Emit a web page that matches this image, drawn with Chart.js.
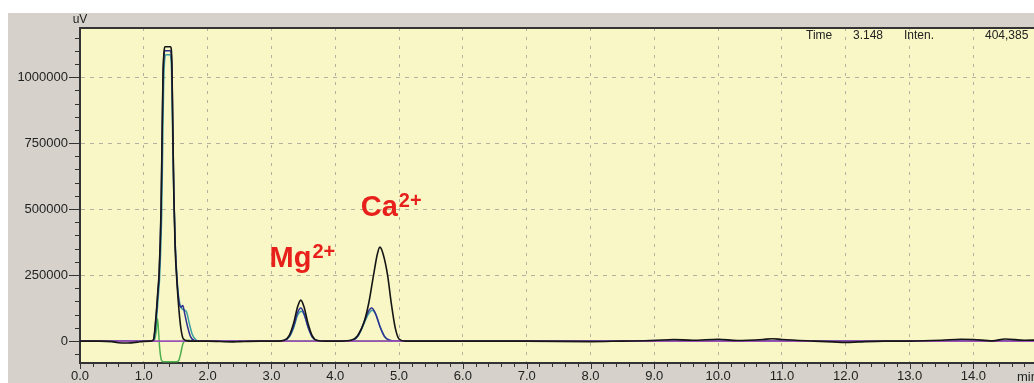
<!DOCTYPE html><html lang="en">
<head>
  <meta charset="UTF-8" />
  <title>Chromatogram - Mg / Ca</title>
  <style>
    html, body { margin:0; padding:0; background:#fff; overflow:hidden; }
    #wrap { width:1034px; height:383px; }
  </style>
  <script src="https://cdn.jsdelivr.net/npm/chart.js"></script>
</head>
<body>
  <div id="wrap"><canvas id="chrom" width="1034" height="383"></canvas></div>
<script>
  // retention time (min) / intensity (uV)
  const blackT = [0,0.3,0.5,0.6,0.75,0.9,1.0,1.1,1.15,1.19,1.22,1.24,1.27,1.285,1.30,1.315,1.33,1.42,1.44,1.455,1.47,1.49,1.52,1.55,1.58,1.62,1.7,2.0,2.4,2.5,2.8,3.1,3.2,3.28,3.35,3.41,3.46,3.51,3.57,3.64,3.72,3.85,4.1,4.25,4.35,4.45,4.53,4.6,4.66,4.70,4.75,4.82,4.88,4.94,5.0,5.1,6.0,7.0,8.0,8.5,9.0,9.3,9.6,10.0,10.3,10.7,10.85,11.0,11.5,11.8,12.0,12.2,12.6,13.0,13.5,13.8,14.0,14.3,14.5,14.8,15.0];
  const blackV = [0,0,-2000,-6000,-7000,-4000,-1000,0,4000,90000,190000,260000,500000,750000,1000000,1090000,1115000,1115000,1050000,800000,560000,360000,220000,120000,50000,8000,0,0,-3000,-2000,0,0,3000,22000,70000,130000,155000,130000,70000,20000,2000,0,0,3000,20000,70000,150000,250000,330000,356000,330000,250000,140000,50000,8000,0,0,0,-2000,0,2000,6000,3000,7000,2000,6000,9000,6000,0,-3000,-5000,-3000,0,0,3000,7000,6000,1000,8000,3000,4000];

  const blueT = [0,1.1,1.15,1.19,1.22,1.24,1.27,1.285,1.30,1.315,1.335,1.415,1.44,1.455,1.47,1.49,1.52,1.55,1.58,1.61,1.64,1.68,1.73,1.79,1.85,3.1,3.2,3.28,3.35,3.41,3.46,3.51,3.57,3.64,3.72,3.85,4.15,4.28,4.36,4.44,4.51,4.57,4.63,4.70,4.77,4.85,4.95,8.5,9.0,9.5,13.6,13.9,14.2,15.0];
  const blueV = [0,0,4000,85000,180000,250000,490000,740000,990000,1080000,1100000,1100000,1040000,800000,570000,380000,230000,150000,128000,135000,105000,60000,18000,2000,0,0,2500,18000,58000,108000,125000,105000,55000,15000,1500,0,0,4000,22000,65000,108000,125000,105000,55000,18000,3000,0,0,2000,0,0,5000,0,0];

  const tealT = [0,1.1,1.16,1.20,1.23,1.25,1.28,1.295,1.31,1.325,1.345,1.41,1.435,1.45,1.47,1.49,1.52,1.55,1.59,1.63,1.67,1.71,1.76,1.82,1.88,3.1,3.2,3.28,3.35,3.41,3.47,3.52,3.58,3.65,3.73,3.85,4.15,4.28,4.36,4.44,4.52,4.58,4.64,4.71,4.78,4.86,4.95,15.0];
  const tealV = [0,0,4000,85000,180000,250000,480000,720000,960000,1060000,1085000,1085000,1020000,800000,560000,380000,240000,160000,125000,118000,110000,70000,25000,4000,0,0,2000,16000,52000,98000,113000,95000,50000,13000,1000,0,0,3000,20000,60000,102000,117000,98000,50000,15000,2000,0,0];

  const greenT = [0,1.1,1.16,1.19,1.215,1.23,1.25,1.275,1.30,1.52,1.55,1.58,1.61,1.64,1.7,1.8,15.0];
  const greenV = [0,0,2000,30000,85000,40000,-30000,-72000,-78000,-78000,-72000,-45000,-12000,0,3000,0,0];

  const purpleT = [0,15.0];
  const purpleV = [0,0];

  const ionNames = ['Mg','Ca'];
  const ionCharge = ['2+','2+'];
  const ionAtT = [2.97, 4.40];
  const ionAtV = [280000, 473000];

  const yMin = -83000, yMax = 1186000, yStep = 50000, yMajor = 250000;
  const xMin = 0, xMax = 14.95, xStep = 0.2;

  const pts = (t, v) => t.map((x, i) => ({x, y: v[i]}));
  const isWhole = v => Math.abs(v - Math.round(v)) < 1e-6;
  const isMajorY = v => Math.abs(v % yMajor) < 1e-6;
  const FONT = 'Liberation Sans, Arial, sans-serif';
  Chart.defaults.font.family = FONT;

  const trace = (data, color, w) => ({ data, borderColor: color, borderWidth: w || 1.4, pointRadius: 0, fill: false, tension: 0.35, cubicInterpolationMode: 'monotone' });

  const chromPaper = {
    id: 'chromPaper',
    beforeDraw(chart) {
      const {ctx, chartArea: a, width, height} = chart;
      ctx.save();
      ctx.fillStyle = '#fff'; ctx.fillRect(0, 0, width, height);
      ctx.fillStyle = '#d6d2cb'; ctx.fillRect(8, 13, width - 8, height - 13);
      ctx.fillStyle = '#f9f7c6'; ctx.fillRect(a.left, a.top, a.right - a.left, a.bottom - a.top);
      ctx.restore();
    },
    afterDraw(chart) {
      const {ctx, chartArea: a} = chart, xs = chart.scales.x, ys = chart.scales.y;
      ctx.save();
      ctx.strokeStyle = '#333'; ctx.lineWidth = 1;
      ctx.beginPath();
      xs.ticks.forEach(t => { const px = Math.round(xs.getPixelForValue(t.value)) + 0.5; ctx.moveTo(px, a.bottom); ctx.lineTo(px, a.bottom + (isWhole(t.value) ? 6 : 4)); });
      ys.ticks.forEach(t => { const py = Math.round(ys.getPixelForValue(t.value)) + 0.5; ctx.moveTo(a.left - (isMajorY(t.value) ? 11 : 5), py); ctx.lineTo(a.left, py); });
      ctx.stroke();
      // top frame
      ctx.lineWidth = 2; ctx.beginPath(); ctx.moveTo(a.left, a.top); ctx.lineTo(a.right, a.top); ctx.stroke();
      // unit labels
      ctx.fillStyle = '#222'; ctx.textBaseline = 'middle';
      ctx.font = '12px ' + FONT; ctx.textAlign = 'center'; ctx.fillText('uV', 80, 20);
      ctx.textAlign = 'left'; ctx.font = '13px ' + FONT; ctx.fillText('min', 1017, 377);
      // cursor readout
      ctx.font = '12px ' + FONT;
      ctx.fillText('Time', 806, 36); ctx.fillText('3.148', 853, 36); ctx.fillText('Inten.', 904, 36); ctx.fillText('404,385', 985, 36);
      // ion labels
      ctx.fillStyle = '#e8201c'; ctx.textBaseline = 'alphabetic';
      ionNames.forEach((n, i) => {
        const px = xs.getPixelForValue(ionAtT[i]), py = ys.getPixelForValue(ionAtV[i]);
        ctx.font = 'bold 29px ' + FONT; ctx.fillText(n, px, py);
        const w = ctx.measureText(n).width;
        ctx.font = 'bold 20px ' + FONT; ctx.fillText(ionCharge[i], px + w + 1, py - 9);
      });
      ctx.restore();
    }
  };

  new Chart(document.getElementById('chrom'), {
    type: 'line',
    data: { datasets: [
      trace(pts(blackT, blackV), '#161616', 1.6),
      trace(pts(purpleT, purpleV), '#9a52b4', 1.6),
      trace(pts(blueT, blueV), '#2e3190', 1.5),
      trace(pts(tealT, tealV), '#3b9ea2', 1.5),
      trace(pts(greenT, greenV), '#4cae4c', 1.5)
    ]},
    options: {
      responsive: false, animation: false, events: [],
      layout: { padding: { top: 28, left: 0, right: 0, bottom: 0 } },
      plugins: { legend: { display: false }, tooltip: { enabled: false } },
      scales: {
        x: {
          type: 'linear', min: xMin, max: xMax,
          afterFit(s) { s.height = 20; },
          border: { color: '#333', width: 2, dash: [3, 6] },
          grid: { drawTicks: false, color: c => isWhole(c.tick.value) && c.tick.value > 0 ? '#b3b19f' : 'rgba(0,0,0,0)', lineWidth: 1 },
          ticks: { stepSize: xStep, includeBounds: false, autoSkip: false, maxRotation: 0, padding: 6, color: '#222', font: { size: 13 },
            callback: v => isWhole(v) ? v.toFixed(1) : '' }
        },
        y: {
          min: yMin, max: yMax,
          afterFit(s) { s.width = 80; },
          // chart.js snaps the step when min/max are not multiples of it, so lay the ticks out here
          afterBuildTicks(s) {
            const t = [];
            for (let v = Math.ceil(yMin / yStep) * yStep; v <= yMax; v += yStep) t.push({ value: v });
            s.ticks = t;
          },
          border: { color: '#333', width: 2, dash: [4, 5] },
          grid: { drawTicks: false, color: c => isMajorY(c.tick.value) && c.tick.value !== 0 ? '#b3b19f' : 'rgba(0,0,0,0)', lineWidth: 1 },
          ticks: { autoSkip: false, padding: 12, color: '#222', font: { size: 13 },
            callback: v => isMajorY(v) ? String(v) : '' }
        }
      }
    },
    plugins: [chromPaper]
  });
</script></body>
</html>
